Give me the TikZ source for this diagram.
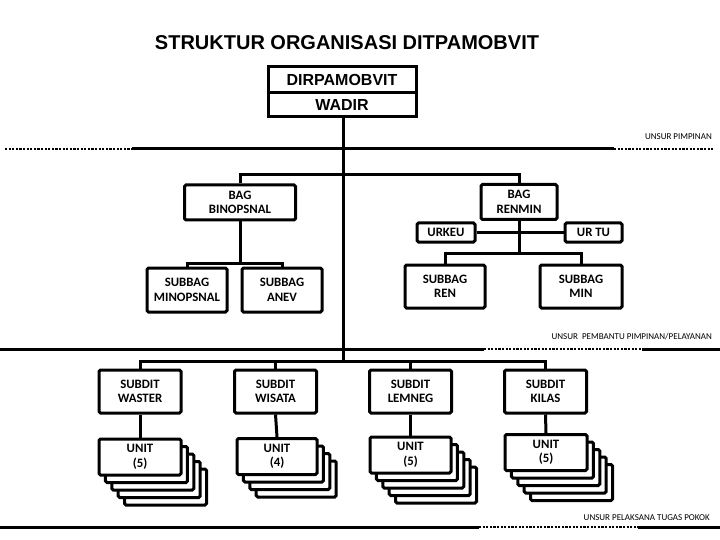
\documentclass[tikz,border=0pt]{standalone}
\usepackage{fontspec}
\setmainfont{Carlito}
\newfontfamily\arialf{Liberation Sans}
\begin{document}
\begin{tikzpicture}[x=1pt,y=-1pt,
  ln/.style={line width=3pt},
  dl/.style={line width=1.8pt,dash pattern=on 2.2pt off 1.4pt},
  bx/.style={draw,line width=3pt,rounded corners=1.5pt,fill=white,align=center,inner sep=0pt,
    font=\fontsize{12.8}{14.5}\selectfont\bfseries},
  lbl/.style={anchor=east,inner sep=0pt,font=\fontsize{9}{10}\selectfont}]
\useasboundingbox (0,0) rectangle (720,540);
% title
\node[inner sep=0pt,font=\arialf\bfseries\fontsize{20}{22}\selectfont] (title) at (347,43) {STRUKTUR ORGANISASI DITPAMOBVIT};
% top box
\node[draw,line width=3pt,minimum width=148pt,minimum height=50pt,inner sep=0pt] (top) at (342,92) {};
\node[inner sep=0pt,font=\arialf\bfseries\fontsize{16}{18}\selectfont] (dir) at (342,80) {DIRPAMOBVIT};
\node[inner sep=0pt,font=\arialf\bfseries\fontsize{16}{18}\selectfont] (wadir) at (342,105) {WADIR};
\draw[ln] (top.west |- 0,93) -- (top.east |- 0,93);
% separator lines
\draw[dl] (5,149) -- (132,149);
\draw[ln] (132,149) -- (614,149);
\draw[dl] (614,149) -- (714,149);
\node[lbl] (l1) at (712,137) {UNSUR PIMPINAN};
\draw[ln] (0,349) -- (484,349);
\draw[dl] (484,349) -- (642,349);
\draw[ln] (642,349) -- (720,349);
\node[lbl] (l2) at (712,337) {UNSUR\ \ PEMBANTU PIMPINAN/PELAYANAN};
\draw[ln] (0,527) -- (479,527);
\draw[dl] (479,527) -- (638,527);
\draw[ln] (638,527) -- (720,527);
\node[lbl] (l3) at (710,518) {UNSUR PELAKSANA TUGAS POKOK};
% coordinates
\coordinate (jb) at (343,175);
\coordinate (jsub) at (343,361);
% level 2
\node[bx,minimum width=111pt,minimum height=35pt] (binop) at (240,202.5) {BAG\\BINOPSNAL};
\node[bx,minimum width=76pt,minimum height=35pt] (renmin) at (519,202) {BAG\\RENMIN};
\node[bx,minimum width=58pt,minimum height=19pt] (urkeu) at (446,232.5) {URKEU};
\node[bx,minimum width=57pt,minimum height=19pt] (urtu) at (593.5,232.5) {UR TU};
\coordinate (jl) at (binop.south |- 0,263);
\coordinate (jr) at (renmin.south |- 0,253);
% level 3
\node[bx,minimum width=80pt,minimum height=44pt] (sminop) at (187,290) {SUBBAG\\MINOPSNAL};
\node[bx,minimum width=80pt,minimum height=44pt] (sanev) at (282,290) {SUBBAG\\ANEV};
\node[bx,minimum width=80pt,minimum height=43pt] (sren) at (445,286.5) {SUBBAG\\REN};
\node[bx,minimum width=82pt,minimum height=43pt] (smin) at (581,286.5) {SUBBAG\\MIN};
% subdit
\node[bx,minimum width=82pt,minimum height=43pt] (waster) at (140,391.5) {SUBDIT\\WASTER};
\node[bx,minimum width=82pt,minimum height=43pt] (wisata) at (275.5,391.5) {SUBDIT\\WISATA};
\node[bx,minimum width=82pt,minimum height=43pt] (lemneg) at (410.5,391.5) {SUBDIT\\LEMNEG};
\node[bx,minimum width=82pt,minimum height=43pt] (kilas) at (545.5,391.5) {SUBDIT\\KILAS};
% unit stacks (back to front)
\foreach \k in {4,3,2,1} {
  \node[bx,minimum width=82pt,minimum height=36pt] (ua\k) at ({140+6.4*\k},{457+7.5*\k}) {};
}
\node[bx,minimum width=82pt,minimum height=36pt] (ua) at (140,457) {UNIT\\(5)};
\foreach \k in {3,2,1} {
  \node[bx,minimum width=80pt,minimum height=36pt] (ub\k) at ({277+6.4*\k},{456.5+7.5*\k}) {};
}
\node[bx,minimum width=80pt,minimum height=36pt] (ub) at (277,456.5) {UNIT\\(4)};
\foreach \k in {4,3,2,1} {
  \node[bx,minimum width=81pt,minimum height=36pt] (uc\k) at ({410.5+6.4*\k},{455+7.5*\k}) {};
}
\node[bx,minimum width=81pt,minimum height=36pt] (uc) at (410.5,455) {UNIT\\(5)};
\foreach \k in {4,3,2,1} {
  \node[bx,minimum width=82pt,minimum height=36pt] (ud\k) at ({546+6.4*\k},{452.5+7.5*\k}) {};
}
\node[bx,minimum width=82pt,minimum height=36pt] (ud) at (546,452.5) {UNIT\\(5)};
% connectors
\draw[ln] (top.south -| jsub) -- (jsub);
\draw[ln] (binop.north) |- (jb) -| (renmin.north);
\draw[ln] (binop.south) -- (jl);
\draw[ln] (sminop.north) |- (jl) -| (sanev.north);
\draw[ln] (renmin.south) -- (jr);
\draw[ln] (urkeu.east) -- (urtu.west);
\draw[ln] (sren.north) |- (jr) -| (smin.north);
\draw[ln] (waster.north) |- (jsub) -| (kilas.north);
\draw[ln] (wisata.north) -- (wisata.north |- jsub);
\draw[ln] (lemneg.north) -- (lemneg.north |- jsub);
\draw[ln] (waster.south) -- (ua.north);
\draw[ln] (wisata.south) -- (ub.north);
\draw[ln] (lemneg.south) -- (uc.north);
\draw[ln] (kilas.south) -- (ud.north);
\end{tikzpicture}
\end{document}
